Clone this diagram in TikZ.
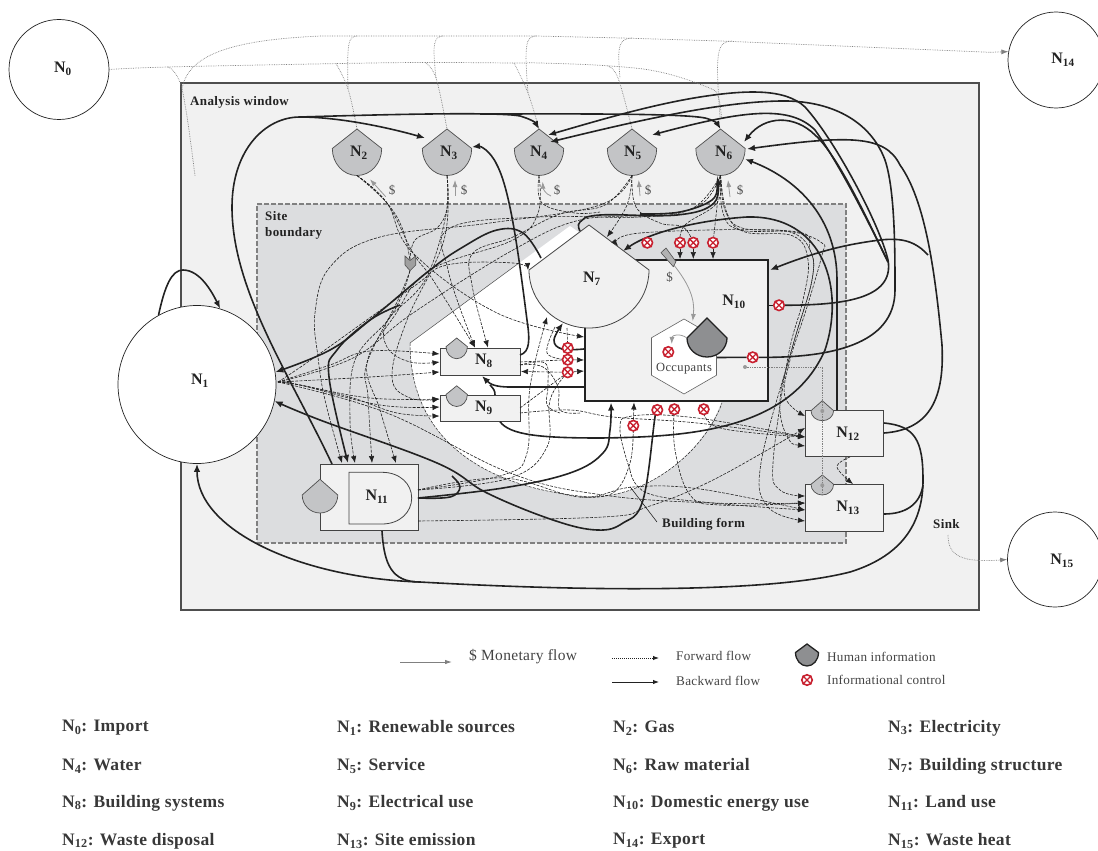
\documentclass[tikz,border=0pt]{standalone}
\usepackage{fontspec}
\setmainfont{Liberation Serif}
\usetikzlibrary{arrows.meta,shapes.geometric}
\definecolor{winfill}{HTML}{F1F1F1}
\definecolor{sitefill}{HTML}{DCDDDF}
\definecolor{shieldfill}{HTML}{C3C4C6}
\definecolor{humanfill}{HTML}{8E8F91}
\definecolor{redc}{HTML}{C8202F}
\definecolor{ink}{HTML}{222222}
\pgfdeclarelayer{top}
\pgfsetlayers{main,top}
\tikzset{
  fwd/.style={draw=ink,line width=.6pt,dash pattern=on 3pt off 1.3pt,-{Latex[length=7pt,width=5.5pt]}},
  fwdn/.style={draw=ink,line width=.6pt,dash pattern=on 3pt off 1.3pt},
  fwdb/.style={draw=ink,line width=.6pt,dash pattern=on 3pt off 1.3pt,{Latex[length=7pt,width=5.5pt]}-{Latex[length=7pt,width=5.5pt]}},
  bwd/.style={draw=ink,line width=1.6pt,-{Latex[length=8pt,width=6.5pt]}},
  bwdn/.style={draw=ink,line width=1.6pt},
  gdot/.style={draw=gray,line width=.7pt,densely dotted},
  gmon/.style={draw=gray!80,line width=.8pt,-{Latex[length=7pt,width=5pt]}},
  bx/.style={draw=ink!85,line width=1pt,fill=winfill,inner sep=0pt},
  crc/.style={circle,draw=ink,line width=.7pt,fill=white,inner sep=0pt},
  lbl/.style={font=\fontsize{16}{18}\selectfont\bfseries,text=ink,inner sep=0pt},
  bold/.style={font=\fontsize{13}{16}\selectfont\bfseries\addfontfeature{LetterSpace=3},text=ink,inner sep=0pt,align=left},
  leg/.style={font=\fontsize{13.2}{15}\selectfont\addfontfeature{LetterSpace=2},text=ink!85,inner sep=0pt,anchor=west},
  lst/.style={font=\fontsize{17.5}{19}\selectfont\bfseries\addfontfeature{LetterSpace=2},text=ink!90,inner sep=0pt,anchor=west},
  rednode/.style={circle,draw=redc,line width=1.6pt,fill=white,minimum size=10.5pt,inner sep=0pt},
  shg/.style={draw=ink!80,line width=.7pt,fill=shieldfill}
}
\newcommand\shieldpath[7]{%
  \coordinate (#1t) at ({#2},{#3-#5});
  \coordinate (#1b) at ({#2},{#3+#6});
  \coordinate (#1l) at ({#2-#4},{#3});
  \coordinate (#1r) at ({#2+#4},{#3});
  \draw[#7] (#1t) -- (#1l) .. controls ({#2-#4},{#3+.5523*#6}) and ({#2-.5523*#4},{#3+#6}) .. (#1b)
     .. controls ({#2+.5523*#4},{#3+#6}) and ({#2+#4},{#3+.5523*#6}) .. (#1r) -- cycle;}
\newcommand\redx[3]{%
  \begin{pgfonlayer}{top}
  \node[rednode] (#1) at (#2,#3) {};
  \draw[redc,line width=1.3pt] (#1.45) -- (#1.225) (#1.135) -- (#1.315);
  \end{pgfonlayer}}
\newcommand\cv[2]{\draw[#1] plot[smooth,tension=.65] coordinates {#2};}
\newcommand\Nn[1]{N\textsubscript{#1}}
\begin{document}
\begin{tikzpicture}[x=1pt,y=-1pt]
\useasboundingbox (0,0) rectangle (1098,851);
% backgrounds
\node[draw=ink!80,line width=1.1pt,fill=winfill,minimum width=798pt,minimum height=527pt,inner sep=0pt] (win) at (580,346.5) {};
\node[draw=gray,line width=1.4pt,dash pattern=on 5pt off 2pt,fill=sitefill,minimum width=589pt,minimum height=339pt,inner sep=0pt] (site) at (551.5,373.5) {};
\path[fill=white] (410,343) -- (570,226) -- (590,240) -- (610,300) -- (722,400)
  .. controls (705,450) and (650,497) .. (590,497)
  .. controls (500,490) and (410,450) .. (410,343) -- cycle;
\draw[fwdn,line width=.5pt] (410,343) .. controls (410,450) and (500,490) .. (590,497)
  .. controls (650,497) and (705,450) .. (722,403);
\draw[ink!80,line width=.5pt] (410,343) -- (519,263);
% outer circles
\node[crc,minimum size=100pt] (N0c) at (59,69.5) {};
\node[crc,minimum size=96pt] (N14c) at (1056,60) {};
\node[crc,minimum size=95pt] (N15c) at (1055,559.5) {};
\node[crc,minimum size=158pt] (N1c) at (197,384.5) {};
% source shields
\shieldpath{S2}{357}{148.5}{24.7}{19.5}{27}{shg}
\shieldpath{S3}{447}{148.5}{24.7}{19.5}{27}{shg}
\shieldpath{S4}{539}{148.5}{24.7}{19.5}{27}{shg}
\shieldpath{S5}{632}{148.5}{24.7}{19.5}{27}{shg}
\shieldpath{S6}{720.5}{148.5}{24.7}{19.5}{27}{shg}
% N10
\node[draw=ink,line width=2.6pt,fill=winfill,minimum width=183pt,minimum height=141pt,inner sep=0pt] (N10box) at (676.5,330.5) {};
% N7
\shieldpath{S7}{589}{270}{60}{45}{58}{draw=ink!85,line width=.8pt,fill=winfill}
% Occupants
\node[draw=ink!70,line width=.6pt,fill=white,regular polygon,regular polygon sides=6,shape border rotate=30,minimum size=75pt,inner sep=0pt] (occ) at (684,356.5) {};
\node[font=\fontsize{12.5}{14}\selectfont\addfontfeature{LetterSpace=3},text=ink!85,inner sep=0pt] (occt) at (684,369) {Occupants};
\shieldpath{Hum}{707}{338}{20}{20}{19}{draw=ink,line width=1.3pt,fill=humanfill}
% N8 N9
\node[bx,minimum width=80pt,minimum height=26.7pt] (N8box) at (480,361.7) {};
\node[bx,minimum width=80pt,minimum height=26.7pt] (N9box) at (480,408.4) {};
\shieldpath{S8}{456.7}{346.7}{10.7}{8.7}{12}{shg}
\shieldpath{S9}{456.7}{394.5}{10.7}{8.7}{12}{shg}
% N11
\node[bx,minimum width=98pt,minimum height=66.7pt] (N11box) at (369,497.4) {};
\draw[draw=ink!85,line width=.8pt,fill=winfill] (349,472.3) -- (382,472.3) .. controls (400,472.3) and (411.7,484) .. (411.7,498)
  .. controls (411.7,512) and (400,524) .. (382,524) -- (349,524) -- cycle;
\shieldpath{S11}{320}{495}{17.8}{15.7}{18}{shg}
% N12 N13
\node[bx,minimum width=77.3pt,minimum height=46pt] (N12box) at (844.4,433.7) {};
\node[bx,minimum width=77.3pt,minimum height=46.7pt] (N13box) at (844.4,507.7) {};
\shieldpath{S12}{822.3}{410.7}{11.3}{10}{10}{shg}
\shieldpath{S13}{822.3}{484.3}{11.3}{9.3}{10.7}{shg}
% labels
\node[lbl] (N0) at (63,69) {\Nn{0}};
\node[lbl] (N1) at (200,381) {\Nn{1}};
\node[lbl] (N2) at (359,153) {\Nn{2}};
\node[lbl] (N3) at (449,153) {\Nn{3}};
\node[lbl] (N4) at (539,153) {\Nn{4}};
\node[lbl] (N5) at (633,153) {\Nn{5}};
\node[lbl] (N6) at (724,153) {\Nn{6}};
\node[lbl] (N7) at (592,279) {\Nn{7}};
\node[lbl] (N8) at (484,361) {\Nn{8}};
\node[lbl] (N9) at (484,408) {\Nn{9}};
\node[lbl] (N10) at (734,302) {\Nn{10}};
\node[lbl] (N11) at (377,497) {\Nn{11}};
\node[lbl] (N12) at (848,434) {\Nn{12}};
\node[lbl] (N13) at (848,508) {\Nn{13}};
\node[lbl] (N14) at (1063,60) {\Nn{14}};
\node[lbl] (N15) at (1062,561) {\Nn{15}};
\node[bold,anchor=west] (awin) at (190,102) {Analysis window};
\node[bold,anchor=north west] (sbnd) at (265,211) {Site\\boundary};
\node[bold,anchor=west] (bform) at (662,524) {Building form};
\node[bold,anchor=west] (sink) at (933,524) {Sink};
% red markers
\redx{r1}{647.3}{242.7}\redx{r2}{680}{242.7}\redx{r3}{693.3}{242.7}\redx{r4}{713}{242.7}
\redx{r5}{779}{305.3}\redx{r6}{668.3}{352}\redx{r7}{752.7}{357.3}
\redx{r8}{567.7}{348}\redx{r9}{567.7}{359.7}\redx{r10}{567.7}{372.3}
\redx{r11}{657.3}{410}\redx{r12}{674.3}{409.3}\redx{r13}{703.7}{409.3}\redx{r14}{633.3}{425.7}
% chevron and diamond
\begin{pgfonlayer}{top}
\coordinate (chevt) at (410,260.5);
\coordinate (chevb) at (410,270.7);
\draw[draw=ink!80,line width=.6pt,fill=gray!75] (405,256) -- (chevt) -- (415.7,256) -- (415.7,265) -- (chevb) -- (405,265) -- cycle;
\coordinate (dia) at (673,264);
\draw[draw=ink!80,line width=.6pt,fill=gray!60] (661,252.7) -- (666,248) -- (676,261.7) -- (673.3,266.7) -- cycle;
\end{pgfonlayer}
\node[font=\fontsize{13}{15}\selectfont,text=ink!80,inner sep=0pt] (dd) at (669.5,277) {\$};
% ports
\coordinate (a8t1) at (475,347.5); \coordinate (a8t2) at (488,347.5);
\coordinate (a8l1) at (439.5,354); \coordinate (a8l2) at (439.5,362); \coordinate (a8l3) at (439.5,372);
\coordinate (a8r) at (521,371.5); \coordinate (s8r1) at (520,362); \coordinate (s8r2) at (520,365); \coordinate (s8r3) at (520,355); \coordinate (a8b) at (482,376);
\coordinate (a9l1) at (439.5,399); \coordinate (a9l2) at (439.5,407); \coordinate (a9l3) at (439.5,416);
\coordinate (s9r1) at (520,408); \coordinate (s9r2) at (520,413); \coordinate (s9t) at (495,395); \coordinate (s9b) at (500,421.7);
\coordinate (a11t1) at (342,463); \coordinate (a11t2) at (348,463); \coordinate (a11t3) at (355,463); \coordinate (a11t4) at (372,463); \coordinate (a11t5) at (396,463);
\coordinate (s11t) at (332,464); \coordinate (s11r1) at (418,490); \coordinate (s11r2) at (418,498); \coordinate (s11r3) at (418,521); \coordinate (s11b) at (382,531);
\coordinate (a12l1) at (805,416); \coordinate (a12l2) at (805,428); \coordinate (a12l3) at (805,437); \coordinate (a12l4) at (805,446);
\coordinate (a13l1) at (805,496); \coordinate (a13l2) at (805,503); \coordinate (a13l3) at (805,510); \coordinate (a13l4) at (805,521);
\coordinate (s12b) at (850,457); \coordinate (a13t) at (853,484); \coordinate (s12t) at (837,410);
\coordinate (s12r1) at (884,423); \coordinate (s12r2) at (884,433); \coordinate (s13r) at (884,514);
\coordinate (a10l1) at (584,337); \coordinate (a10l2) at (584,360); \coordinate (a10l3) at (584,371);
\coordinate (s10l) at (584,349); \coordinate (s10lb) at (584,387);
\coordinate (a10t1) at (680,259); \coordinate (a10t2) at (693.3,259); \coordinate (a10t3) at (713,259);
\coordinate (a10b1) at (611,402.5); \coordinate (a10b2) at (634,402.5); \coordinate (a10r) at (770,270);
\coordinate (a7l) at (528,270); \coordinate (a7b1) at (547,317); \coordinate (a7b2) at (563,323);
\coordinate (a7t1) at (607,237); \coordinate (a7t2) at (618,246); \coordinate (a7t3) at (623,251);
\coordinate (s7e) at (541,258); \coordinate (s7t) at (580,231);
\coordinate (a3r) at (472,147); \coordinate (a3l) at (425,138);
\coordinate (a4r1) at (548,135); \coordinate (a4r2) at (550,142); \coordinate (a5r) at (652,135);
\coordinate (a6a) at (744,142); \coordinate (a6b) at (747,149); \coordinate (a6c) at (745,159); \coordinate (a6d) at (717,177);
\coordinate (s1r) at (278,382);
% grey dotted import/export lines
\cv{gdot}{(N0c.east)(168,67)(336,63.6)(425,62.5)(514,63)(540,63)(607.6,65.8)(660,72)(707,87)(718,96)(721.5,119)}
\cv{gdot}{(168,67)(182,89)(195,176)}
\cv{gdot}{(336,63.6)(348,89)(S2t)}
\cv{gdot}{(425,62.5)(436,78)(S3t)}
\cv{gdot}{(514,63)(528,93)(S4t)}
\cv{gdot}{(607.6,66)(618,78)(S5t)}
\draw[gdot] (182,89) .. controls (188,55) and (230,40) .. (321,36) -- (536,36) -- (622,38) -- (721,41) -- (990,52.3);
\draw[gdot,-{Latex[length=7pt,width=5pt]}] (990,52.3) -- (N14c.170);
\draw[gdot] (357,36) .. controls (348,37) and (347,42) .. (348,89);
\draw[gdot] (443,36) .. controls (434,37) and (432,42) .. (436,78);
\draw[gdot] (536,36) .. controls (526,37) and (524,42) .. (528,93);
\draw[gdot] (632,38) .. controls (619,39) and (617,45) .. (620,78);
\draw[gdot] (732,41) .. controls (717,42) and (715,50) .. (720,117);
% dotted from occupants via N12 N13
\coordinate (dot1) at (745,367);
\draw[gdot] (dot1) -- (822.3,367) -- (S12b) -- (S13b);
\begin{pgfonlayer}{top}
\fill[gray!80] (dot1) circle (2pt) (822.3,411) circle (2pt) (822.3,485.3) circle (2pt);
\end{pgfonlayer}
% monetary flows
\coordinate (m2) at (385.7,196.7); \coordinate (m3) at (455,195.7); \coordinate (m4) at (551,196); \coordinate (m5) at (640,196); \coordinate (m6) at (730,197);
\draw[gmon] (m2) -- (370,179.3);
\draw[gmon] (m3) -- (455,180);
\draw[gmon] (m4) .. controls (545,194) and (543,188) .. (542.7,181.7);
\draw[gmon] (m5) -- (638.7,180);
\draw[gmon] (m6) -- (728,180);
\foreach \nm/\xx in {dA/392,dB/464,dC/557,dD/648,dE/740}{\node[font=\fontsize{13}{15}\selectfont,text=ink!80,inner sep=0pt] (\nm) at (\xx,190.7) {\$};}
\draw[gmon] (dia) .. controls (690,285) and (695,300) .. (692.7,321);
\draw[gmon] (Huml) .. controls (680,333) and (672,335) .. (671.7,344);
% forward flows
\cv{fwd}{(S2b)(387,203)(413,253)(433,280)(a8t1)}
\cv{fwdn}{(S2b)(387,203)(403,230)(chevt)}
\cv{fwdn}{(S3b)(447,208)(437,228)(415,240)(chevt)}
\cv{fwd}{(chevb)(402,295)(388,320)(355,360)(350,420)(a11t3)}
\cv{fwd}{(chevb)(398,300)(367,363)(368,397)(a11t4)}
\cv{fwd}{(S4b)(538,213)(513,240)(430,270)(395,315)(367,363)(380,410)(a11t5)}
\cv{fwd}{(S5b)(600,205)(490,223)(380,237)(330,267)(315,313)(318,357)(325,400)(a11t1)}
\cv{fwd}{(S6b)(693,208)(640,217)(540,217)(450,228)(448,270)(a8t1)}
\cv{fwd}{(S5b)(605,205)(560,214)(513,237)(473,253)(472,285)(a8t2)}
\cv{fwd}{(S3b)(446,215)(425,280)(388,320)(387,347)(410,362)(a8l2)}
\cv{fwd}{(S3b)(444,240)(407,320)(392,377)(410,398)(a9l1)}
\cv{fwd}{(s1r)(330,365)(370,351)(a8l1)}
\cv{fwd}{(s1r)(370,377)(a8l3)}
\cv{fwd}{(s1r)(300,385)(370,398)(a9l1)}
\cv{fwd}{(s1r)(300,385)(380,405)(a9l2)}
\cv{fwd}{(s1r)(300,385)(353,398)(397,413)(a9l3)}
\cv{fwd}{(s1r)(315,357)(413,287)(447,265)(513,263)(a7l)}
\cv{fwdn}{(s1r)(353,358)(413,313)(513,250)(580,220)(650,216)(700,205)(S6b)}
\cv{fwdn}{(S4b)(542,203)(575,213)(600,212)}
\cv{fwdn}{(S5b)(636,207)(660,223)(683,227)(r3)}
\cv{fwdn}{(S6b)(717,203)(685,225)(r2)}
\draw[fwdn] (S6b) -- (r4);
\draw[fwd] (r2) -- (a10t1);
\draw[fwd] (r3) -- (a10t2);
\draw[fwd] (r4) -- (a10t3);
\cv{fwd}{(S5b)(627,205)(a7t1)}
\cv{fwd}{(S6b)(723,213)(740,230)(793,232)(822,243)(822,255)(807,307)(790,360)(785,397)(a12l1)}
\cv{fwd}{(S6b)(725,210)(742,228)(790,232)(810,250)(812,280)(793,345)(761,463)(768,507)(a13l4)}
\cv{fwdb}{(a12l4)(787,436)(780,400)(793,345)(812,280)(810,250)(790,231)(640,233)(a7t2)}
\cv{fwd}{(S6b)(727,213)(745,232)(793,236)(808,260)(803,300)(788,357)(773,463)(780,490)(a13l1)}
\cv{fwd}{(s9r2)(570,410)(613,417)(697,423)(a12l3)}
\draw[fwdn] (s9r1) -- (r10);
\draw[fwdn] (s8r1) -- (r9);
\draw[fwd] (r9) -- (a10l2);
\draw[fwd] (r10) -- (a10l3);
\draw[fwd] (r10) -- (a8r);
\cv{fwdn}{(s8r2)(543,367)(558,387)(560,410)(580,413)}
\cv{fwdn}{(s8r2)(545,363)(548,385)(547,405)(560,413)}
\cv{fwdn}{(555,327)(547,353)(r9)}
\draw[fwdn] (567,328) -- (r8);
\cv{fwd}{(s11r1)(503,475)(527,453)(530,387)(a7b1)}
\cv{fwdn}{(s11r1)(510,478)(547,447)(550,400)(r10)}
\cv{fwd}{(s11r3)(603,517)(647,507)(713,480)(a12l2)}
\cv{fwd}{(s1r)(387,413)(510,473)(603,495)(713,503)(a13l2)}
\cv{fwd}{(s11r1)(503,478)(580,497)(633,487)(700,489)(a13l3)}
\cv{fwdn}{(580,497)(613,493)(630,463)(r14)}
\draw[fwd] (r14) -- (a10b2);
\cv{fwd}{(630,470)(620,430)(632,416)(697,418)(a12l3)}
\cv{fwd}{(630,470)(647,493)(713,503)(a13l3)}
\cv{fwd}{(r12)(675,450)(690,495)(720,505)(a13l2)}
\cv{fwd}{(r13)(720,428)(a12l3)}
\cv{fwd}{(s12b)(837,467)(a13t)}
\cv{fwd}{(S2b)(387,203)(413,253)(497,313)(a10l1)}
\cv{fwdn}{(N11box.east)(s11r2)}
% backward flows
\draw[bwd] (N1c.119) .. controls (165,285) and (172,270) .. (183,270) .. controls (200,270) and (212,292) .. (N1c.73);
\draw[bwd] (s11t) .. controls (290,375) and (232,290) .. (232,207) .. controls (232,150) and (265,117) .. (300,117) .. controls (340,117) and (390,128) .. (a3l);
\draw[bwd] (300,117) .. controls (400,114) and (500,112) .. (520,116) .. controls (530,119) and (535,122) .. (S4t);
\draw[bwd] (480,114) .. controls (560,114) and (680,113) .. (705,118) .. controls (713,120) and (717,123) .. (S6t);
\cv{bwd}{(s7e)(523,233)(497,230)(463,247)(430,270)(370,320)(330,350)(N1c.9)}
\cv{bwd}{(400,305)(370,320)(337,350)(329,377)(a11t2)}
\draw[bwd] (s8r3) .. controls (530,352) and (530,340) .. (527,320) .. controls (518,250) and (510,190) .. (497,165) .. controls (490,150) and (480,146) .. (a3r);
\cv{bwd}{(s10l)(562,349)(554,340)(a7b2)}
\draw[bwd] (s10lb) -- (510,387) .. controls (495,387) and (490,384) .. (a8b);
\draw[bwdn] (s9t) .. controls (495,391) and (494,389) .. (490,385);
\draw[bwd] (s9b) .. controls (510,435) and (540,438) .. (600,438) .. controls (690,437) and (790,430) .. (825,350) .. controls (845,290) and (825,215) .. (747,217) .. controls (700,220) and (650,232) .. (a7t3);
\draw[bwd] (s12t) -- (837,280) .. controls (837,220) and (800,180) .. (a6c);
\draw[bwd] (r5) .. controls (840,305) and (895,300) .. (888,260) .. controls (880,225) and (835,140) .. (805,107) .. controls (785,88) and (745,90) .. (700,97) .. controls (650,105) and (600,120) .. (a4r1);
\draw[bwd] (r7) .. controls (830,358) and (895,345) .. (895,290) .. controls (895,250) and (895,190) .. (885,160) .. controls (870,120) and (830,100) .. (780,101) .. controls (720,102) and (640,120) .. (a4r2);
\draw[bwd] (888,262) .. controls (870,225) and (840,165) .. (815,130) .. controls (790,105) and (745,110) .. (a5r);
\draw[bwd] (888,262) .. controls (870,225) and (838,155) .. (815,135) .. controls (795,115) and (765,115) .. (a6a);
\draw[bwd] (s12r2) .. controls (925,430) and (945,405) .. (942,345) .. controls (935,270) and (925,200) .. (900,165) .. controls (885,135) and (850,135) .. (a6b);
\draw[bwd] (928,255) .. controls (910,235) and (890,238) .. (860,243) .. controls (830,248) and (800,258) .. (a10r);
\draw[bwdn] (s11b) .. controls (384,565) and (392,582) .. (420,582) .. controls (560,590) and (760,595) .. (850,572) .. controls (905,555) and (923,520) .. (923,480) .. controls (923,440) and (915,426) .. (s12r1);
\draw[bwd] (420,582) .. controls (300,578) and (197,530) .. (N1c.-90);
\draw[bwdn] (s13r) .. controls (905,514) and (920,505) .. (923,485);
\cv{bwd}{(r11)(655,417)(643,500)(623,523)(597,530)(553,520)(487,493)(437,463)(320,420)(N1c.-12)}
\cv{bwd}{(s11r2)(503,488)(570,473)(603,453)(610,430)(a10b1)}
\cv{bwdn}{(s11r2)(450,497)(460,487)(452,476)}
\cv{bwd}{(s7t)(580,222)(600,215)(677,215)(714,203)(a6d)}
\cv{bwdn}{(640,214)(680,212)(712,200)(717,185)}
\draw[bwdn] (N10box.east |- r5) -- (r5);
\draw[bwdn] (717,357.5) -- (r7);
% annotation lines
\draw[ink,line width=.6pt] (bform.west) ++(-5,-2) -- (630,486.7);
\coordinate (sinks) at (948,535);
\draw[gdot,-{Latex[length=7pt,width=5pt]}] (sinks) .. controls (948,555) and (960,563) .. (N15c.180);
% legend
\coordinate (lg1a) at (400,662); \coordinate (lg1b) at (452,662);
\draw[gray,line width=.9pt,-{Latex[length=7pt,width=4.5pt]}] (lg1a) -- (lg1b);
\node[leg,font=\fontsize{15.5}{17}\selectfont\addfontfeature{LetterSpace=2}] (tm) at (469,657) {\$ Monetary flow};
\coordinate (lg2a) at (612,658); \coordinate (lg2b) at (659,658);
\draw[ink,line width=1pt,dash pattern=on 1.1pt off .9pt,-{Latex[length=6pt,width=4.5pt]}] (lg2a) -- (lg2b);
\node[leg] (tf) at (676,656) {Forward flow};
\coordinate (lg3a) at (612,682); \coordinate (lg3b) at (659,682);
\draw[ink,line width=.9pt,-{Latex[length=6pt,width=4.5pt]}] (lg3a) -- (lg3b);
\node[leg] (tb) at (676,681) {Backward flow};
\shieldpath{LH}{807}{652.5}{11.5}{8.5}{13.5}{draw=ink,line width=1.3pt,fill=humanfill}
\node[leg] (th) at (827,657) {Human information};
\redx{lr}{807}{680}
\node[leg] (ti) at (827,680) {Informational control};
% list
\node[lst] (l0) at (62,728) {\Nn{0}: Import};
\node[lst] (l1) at (337,728) {\Nn{1}: Renewable sources};
\node[lst] (l2) at (613,728) {\Nn{2}: Gas};
\node[lst] (l3) at (888,728) {\Nn{3}: Electricity};
\node[lst] (l4) at (62,766) {\Nn{4}: Water};
\node[lst] (l5) at (337,766) {\Nn{5}: Service};
\node[lst] (l6) at (613,766) {\Nn{6}: Raw material};
\node[lst] (l7) at (888,766) {\Nn{7}: Building structure};
\node[lst] (l8) at (62,803) {\Nn{8}: Building systems};
\node[lst] (l9) at (337,803) {\Nn{9}: Electrical use};
\node[lst] (l10) at (613,803) {\Nn{10}: Domestic energy use};
\node[lst] (l11) at (888,803) {\Nn{11}: Land use};
\node[lst] (l12) at (62,841) {\Nn{12}: Waste disposal};
\node[lst] (l13) at (337,841) {\Nn{13}: Site emission};
\node[lst] (l14) at (613,841) {\Nn{14}: Export};
\node[lst] (l15) at (888,841) {\Nn{15}: Waste heat};
\end{tikzpicture}
\end{document}
